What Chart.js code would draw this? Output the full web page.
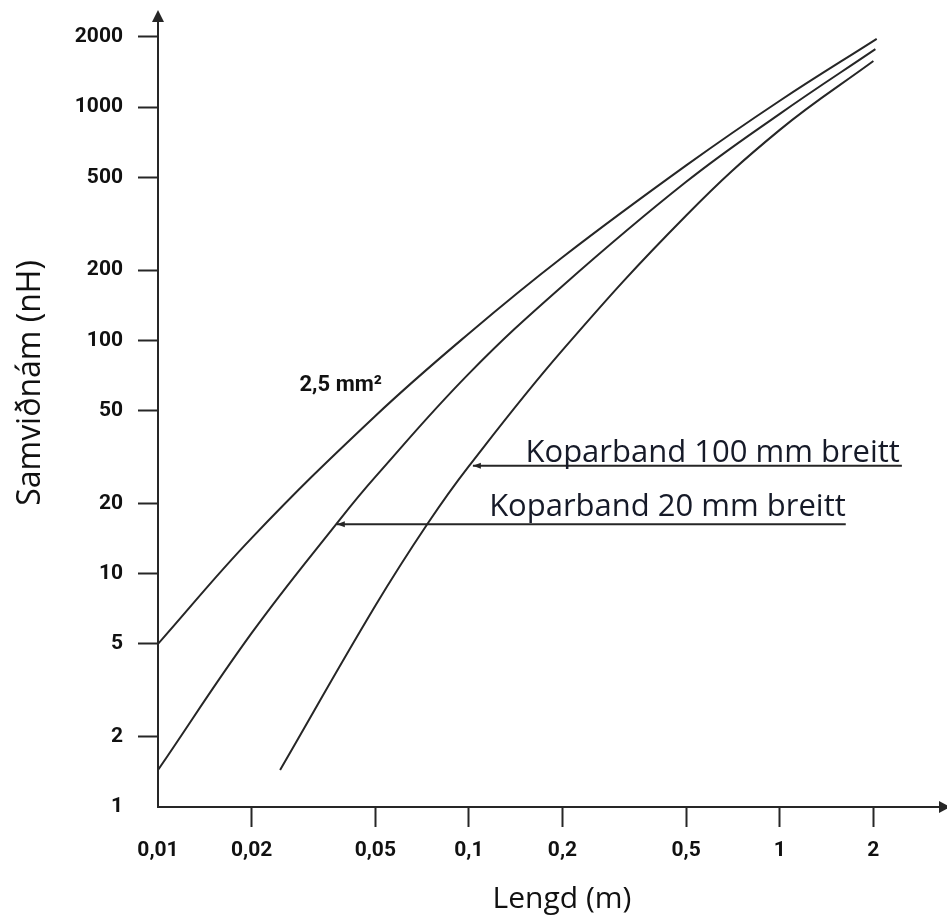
<!DOCTYPE html>
<html lang="is">
<head>
<meta charset="utf-8">
<title>Samviðnám</title>
<script src="https://cdn.jsdelivr.net/npm/chart.js"></script>
<style>
  html, body { margin: 0; padding: 0; background: #fff; }
  #wrap { width: 947px; height: 917px; }
</style>
</head>
<body>
<div id="wrap"><canvas id="chart"></canvas></div>
<script>
// axis ticks
const xTicks = [0.01, 0.02, 0.05, 0.1, 0.2, 0.5, 1, 2];
const yTicks = [1, 2, 5, 10, 20, 50, 100, 200, 500, 1000, 2000];

// 2,5 mm² leiðari
const wireX = [0.01, 0.02, 0.05, 0.1, 0.2, 0.5, 1, 2.05];
const wireY = [5, 14.2, 47.4, 107, 227, 562, 1064, 1960];
// Koparband 20 mm
const band20X = [0.01, 0.02, 0.0385, 0.05, 0.1, 0.2, 0.5, 1, 2.03];
const band20Y = [1.44, 5.56, 17.1, 26, 72, 171, 478, 935, 1770];
// Koparband 100 mm
const band100X = [0.0247, 0.05, 0.0737, 0.1, 0.2, 0.5, 1, 2];
const band100Y = [1.44, 7.28, 16.4, 28.9, 90.8, 343, 798, 1574];

// leader lines under the labels
const lead100X = [0.103, 2.47];
const lead100Y = [29, 29];
const lead20X = [0.0376, 1.63];
const lead20Y = [16.3, 16.3];

const pts = (xs, ys) => xs.map((v, i) => ({ x: v, y: ys[i] }));
const ink = '#262626';
const tickFont = { family: "Roboto, 'DejaVu Sans Condensed', sans-serif", size: 21, weight: 'bold' };

function curve(data) {
    return { data: data, borderColor: ink, borderWidth: 2, pointRadius: 0, fill: false, tension: 0.4 };
}
function leader(data) {
    return { data: data, borderColor: ink, borderWidth: 2, pointRadius: 0, fill: false, tension: 0 };
}

// arrows, annotations and axis titles
const decor = {
    id: 'decor',
    afterDraw(chart) {
        const { ctx, chartArea: a, scales: { x, y } } = chart;
        ctx.save();
        ctx.fillStyle = ink;

        // axis arrow heads
        ctx.beginPath();
        ctx.moveTo(a.left, a.top - 10);
        ctx.lineTo(a.left - 6, a.top + 2);
        ctx.lineTo(a.left + 6, a.top + 2);
        ctx.closePath();
        ctx.fill();
        ctx.beginPath();
        ctx.moveTo(a.right + 9, a.bottom);
        ctx.lineTo(a.right - 2, a.bottom - 6);
        ctx.lineTo(a.right - 2, a.bottom + 6);
        ctx.closePath();
        ctx.fill();

        // leader arrow heads
        [[lead100X[0], lead100Y[0]], [lead20X[0], lead20Y[0]]].forEach(p => {
            const px = x.getPixelForValue(p[0]);
            const py = y.getPixelForValue(p[1]);
            ctx.beginPath();
            ctx.moveTo(px, py);
            ctx.lineTo(px + 8, py - 3);
            ctx.lineTo(px + 8, py + 3);
            ctx.closePath();
            ctx.fill();
        });

        // labels
        ctx.fillStyle = '#161a28';
        ctx.font = '31px "Open Sans"';
        ctx.textAlign = 'right';
        ctx.textBaseline = 'alphabetic';
        ctx.fillText('Koparband 100 mm breitt', x.getPixelForValue(lead100X[1]) - 2, y.getPixelForValue(lead100Y[1]) - 4);
        ctx.fillText('Koparband 20 mm breitt', x.getPixelForValue(lead20X[1]), y.getPixelForValue(lead20Y[1]) - 8);

        ctx.fillStyle = '#111';
        ctx.font = 'bold 22px Roboto';
        ctx.textAlign = 'center';
        ctx.textBaseline = 'middle';
        ctx.fillText('2,5 mm²', x.getPixelForValue(0.0387), y.getPixelForValue(64));

        // axis titles
        ctx.font = '30px "Open Sans"';
        ctx.fillText('Lengd (m)', 562, 899);
        ctx.font = '32px "Open Sans"';
        ctx.translate(31, 383);
        ctx.rotate(-Math.PI / 2);
        ctx.fillText('Samviðnám (nH)', 0, 0);
        ctx.restore();
    }
};

new Chart(document.getElementById('chart'), {
    type: 'line',
    data: {
        datasets: [
            curve(pts(wireX, wireY)),
            curve(pts(band20X, band20Y)),
            curve(pts(band100X, band100Y)),
            leader(pts(lead100X, lead100Y)),
            leader(pts(lead20X, lead20Y))
        ]
    },
    options: {
        responsive: true,
        maintainAspectRatio: false,
        animation: false,
        layout: { padding: { top: 20, right: 6, left: 0, bottom: 0 } },
        plugins: { legend: { display: false }, tooltip: { enabled: false } },
        scales: {
            x: {
                type: 'logarithmic',
                min: 0.01,
                max: 3.3,
                afterBuildTicks: s => { s.ticks = xTicks.map(v => ({ value: v })); },
                afterFit: s => { s.height = 110; s.paddingLeft = 0; s.paddingRight = 0; },
                border: { display: true, color: ink, width: 2 },
                grid: {
                    drawOnChartArea: false,
                    tickLength: 20,
                    tickWidth: 2,
                    tickColor: c => (c.tick && c.tick.value === 0.01) ? 'rgba(0,0,0,0)' : ink
                },
                ticks: {
                    autoSkip: false,
                    maxRotation: 0,
                    padding: 11,
                    color: '#111',
                    font: tickFont,
                    callback: v => String(v).replace('.', ',')
                }
            },
            y: {
                type: 'logarithmic',
                min: 1,
                max: 2360,
                afterBuildTicks: s => { s.ticks = yTicks.map(v => ({ value: v })); },
                afterFit: s => { s.width = 158; s.paddingTop = 0; s.paddingBottom = 0; },
                border: { display: true, color: ink, width: 2 },
                grid: {
                    drawOnChartArea: false,
                    tickLength: 20,
                    tickWidth: 2,
                    tickColor: c => (c.tick && c.tick.value === 1) ? 'rgba(0,0,0,0)' : ink
                },
                ticks: {
                    autoSkip: false,
                    padding: 15,
                    color: '#111',
                    font: tickFont,
                    callback: v => String(v)
                }
            }
        }
    },
    plugins: [decor]
});
</script>
</body>
</html>
